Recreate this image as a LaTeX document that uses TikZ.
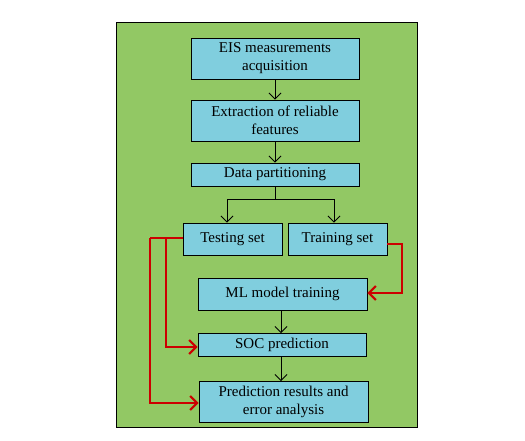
\documentclass[tikz,border=0pt]{standalone}
\usepackage{fontspec}
\setmainfont{Liberation Serif}
\usetikzlibrary{arrows.meta}
\definecolor{bggreen}{RGB}{146,200,100}
\definecolor{boxcyan}{RGB}{128,206,222}
\definecolor{redline}{RGB}{204,0,0}
\begin{document}
\begin{tikzpicture}[x=1pt,y=-1pt,
  stepbox/.style={draw=black,line width=0.9pt,fill=boxcyan,inner sep=0pt,align=center,
    font=\fontsize{15}{18}\selectfont},
  blk/.style={draw=black,line width=0.8pt,-{Straight Barb[length=6pt,width=12pt]}},
  redarr/.style={draw=redline,line width=2pt,-{Straight Barb[length=7pt,width=14pt]}},
  redln/.style={draw=redline,line width=2pt}]
\useasboundingbox (0,0) rectangle (525,440);
\node[draw=black,line width=0.8pt,fill=bggreen,minimum width=301pt,minimum height=405pt,inner sep=0pt] (bg) at (267,225) {};
\node[stepbox,minimum width=168pt,minimum height=41pt] (eis) at (275,58.5) {EIS measurements\\acquisition};
\node[stepbox,minimum width=168pt,minimum height=41pt] (ext) at (275,120.5) {Extraction of reliable\\features};
\node[stepbox,minimum width=168pt,minimum height=23pt] (dp) at (275,174.5) {Data partitioning};
\node[stepbox,minimum width=99pt,minimum height=32pt] (test) at (232.5,239) {Testing set};
\node[stepbox,minimum width=99pt,minimum height=32pt] (train) at (337.5,239) {Training set};
\node[stepbox,minimum width=169pt,minimum height=32pt] (ml) at (282.5,294) {ML model training};
\node[stepbox,minimum width=168pt,minimum height=23pt] (soc) at (282,344.5) {SOC prediction};
\node[stepbox,minimum width=169pt,minimum height=41pt] (pred) at (283.5,401.5) {Prediction results and\\error analysis};
\coordinate (br) at (275,199);
\coordinate (bl) at (227,199);
\coordinate (brr) at (334,199);
\draw[blk] (eis.south) -- (ext.south |- ext.north);
\draw[blk] (ext.south) -- (dp.north);
\draw[draw=black,line width=0.8pt] (dp.south) -- (br);
\draw[draw=black,line width=0.8pt] (bl) -- (brr);
\draw[blk] (bl) -- (bl |- test.north);
\draw[blk] (brr) -- (brr |- train.north);
\draw[blk] (281,310) -- (281,333);
\draw[blk] (soc.south -| 281,0) -- (281,381);
\coordinate (ra) at (150,238);
\coordinate (rb) at (166,238);
\draw[redln] (test.west |- 0,238) -- (ra);
\draw[redarr] (ra) -- (150,403) -- (pred.west |- 0,403);
\draw[redarr] (rb) -- (166,347) -- (soc.west |- 0,347);
\draw[redarr] (train.east |- 0,244) -- (402,244) -- (402,293) -- (ml.east |- 0,293);
\end{tikzpicture}
\end{document}
